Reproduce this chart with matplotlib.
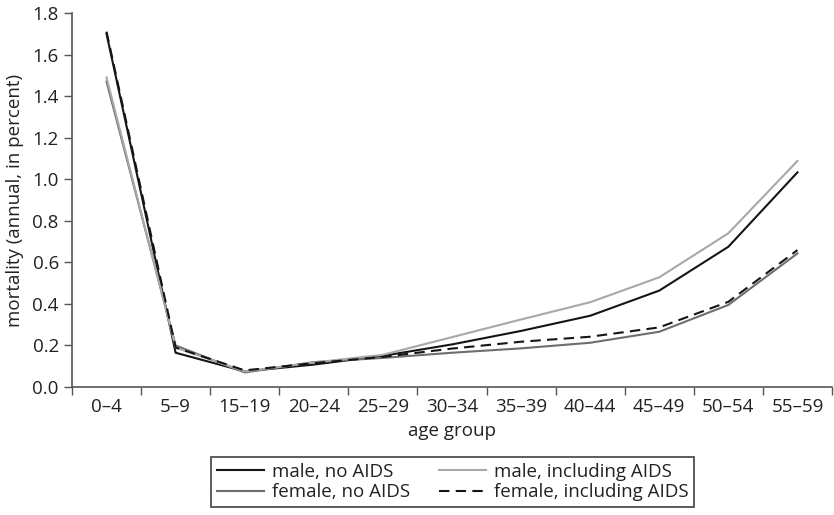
import matplotlib.pyplot as plt
import numpy as np

plt.rcParams['font.family'] = ['Open Sans', 'DejaVu Sans']

age_groups = ['0\u20134', '5\u20139', '15\u201319', '20\u201324', '25\u201329', '30\u201334',
              '35\u201339', '40\u201344', '45\u201349', '50\u201354', '55\u201359']

male_no_aids = [1.70, 0.165, 0.075, 0.108, 0.150, 0.205, 0.270, 0.343, 0.464, 0.675, 1.033]
male_incl_aids = [1.49, 0.190, 0.075, 0.118, 0.155, 0.240, 0.325, 0.408, 0.528, 0.740, 1.088]
female_no_aids = [1.47, 0.200, 0.070, 0.120, 0.140, 0.165, 0.186, 0.213, 0.266, 0.395, 0.643]
female_incl_aids = [1.71, 0.190, 0.080, 0.115, 0.145, 0.185, 0.218, 0.242, 0.287, 0.410, 0.659]

fs = 13.5

fig = plt.figure(figsize=(8.34, 5.15), dpi=100)
ax = fig.add_axes([0.0863, 0.2485, 0.9113, 0.7263])

x = np.arange(len(age_groups))
ax.plot(x, male_no_aids, color='#151515', lw=1.5, label='male, no AIDS')
ax.plot(x, female_no_aids, color='#6e6e6e', lw=1.5, label='female, no AIDS')
ax.plot(x, male_incl_aids, color='#a8a8a8', lw=1.5, label='male, including AIDS')
ax.plot(x, female_incl_aids, color='#151515', lw=1.5, ls=(0, (5, 3)), label='female, including AIDS')

ax.set_xlim(-0.5, len(age_groups) - 0.5)
ax.set_ylim(0, 1.8)
ax.set_yticks(np.arange(0, 1.81, 0.2))
ax.set_yticklabels(['%.1f' % v for v in np.arange(0, 1.81, 0.2)])

# boundaries as ticks, labels centred in between
ax.set_xticks(np.arange(-0.5, len(age_groups)), minor=False)
ax.set_xticklabels([])
ax.set_xticks(x, minor=True)
ax.set_xticklabels(age_groups, minor=True)
ax.tick_params(axis='x', which='minor', length=0, pad=8, labelsize=fs, colors='#222222')
ax.tick_params(axis='x', which='major', length=6, width=1, color='#555555')
ax.tick_params(axis='y', length=6, width=1, color='#555555', labelsize=fs, labelcolor='#222222')

for s in ['top', 'right']:
    ax.spines[s].set_visible(False)
for s in ['left', 'bottom']:
    ax.spines[s].set_color('#555555')
    ax.spines[s].set_linewidth(1.2)

ax.set_xlabel('age group', fontsize=fs, color='#222222', labelpad=4)
ax.set_ylabel('mortality (annual, in percent)', fontsize=fs, color='#222222', labelpad=6)

leg = fig.legend(loc='upper center', bbox_to_anchor=(0.5426, 0.1126), ncol=2,
                 fontsize=fs, frameon=True, fancybox=False, handlelength=2.5,
                 handletextpad=0.43, columnspacing=1.55, borderpad=0.3,
                 labelspacing=0.15, borderaxespad=0)
leg.get_frame().set_edgecolor('#111111')
leg.get_frame().set_linewidth(1.2)
for t in leg.get_texts():
    t.set_color('#222222')

fig.savefig('out.png', dpi=100)
